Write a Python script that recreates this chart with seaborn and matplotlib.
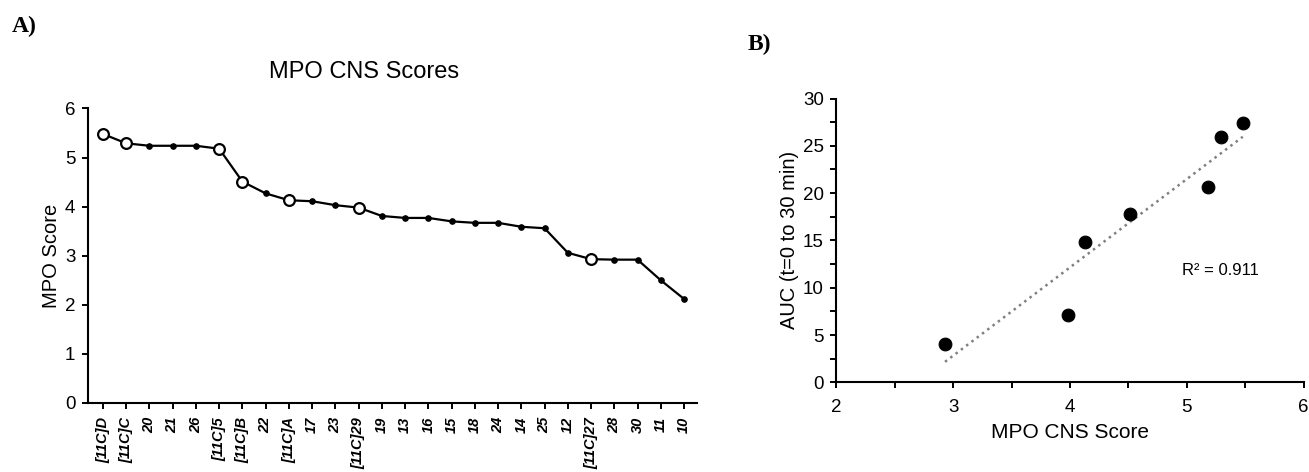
import numpy as np
import pandas as pd
import matplotlib
matplotlib.use("Agg")
import matplotlib.pyplot as plt
from matplotlib.ticker import MultipleLocator
import seaborn as sns

# panel A: compounds ranked by MPO CNS score
compounds = ["[11C]D", "[11C]C", "20", "21", "26", "[11C]5", "[11C]B", "22", "[11C]A",
             "17", "23", "[11C]29", "19", "13", "16", "15", "18", "24", "14", "25",
             "12", "[11C]27", "28", "30", "11", "10"]
mpo_scores = [5.48, 5.29, 5.24, 5.24, 5.24, 5.18, 4.51, 4.27, 4.13,
              4.11, 4.03, 3.98, 3.81, 3.77, 3.77, 3.70, 3.67, 3.67, 3.59, 3.56,
              3.06, 2.93, 2.92, 2.92, 2.50, 2.12]

# panel B: radiotracers, MPO score vs brain AUC
tracer_mpo = [2.93, 3.98, 4.13, 4.51, 5.18, 5.29, 5.48]
tracer_auc = [4.1, 7.1, 14.8, 17.8, 20.6, 25.9, 27.4]
r2_text = "R\u00b2 = 0.911"

sns.set_style("ticks")
plt.rcParams["font.family"] = ["Liberation Sans", "DejaVu Sans"]
plt.rcParams.update({
    "text.color": "black", "axes.labelcolor": "black", "axes.edgecolor": "black",
    "xtick.color": "black", "ytick.color": "black",
    "axes.linewidth": 1.5,
    "xtick.major.width": 1.4, "ytick.major.width": 1.4,
    "xtick.minor.width": 1.4, "ytick.minor.width": 1.4,
})

df_a = pd.DataFrame({"compound": compounds, "score": mpo_scores})
df_a["labelled"] = df_a["compound"].str.startswith("[11C]")

fig = plt.figure(figsize=(13.09, 4.72), dpi=100)
ax1 = fig.add_axes([0.0672, 0.1462, 0.4653, 0.6240])
ax2 = fig.add_axes([0.6390, 0.1900, 0.3568, 0.6013])

# --- panel A
sns.lineplot(data=df_a, x="compound", y="score", sort=False, color="black",
             linewidth=1.6, marker="o", markersize=4, markeredgecolor="black", ax=ax1)
sns.scatterplot(data=df_a[df_a["labelled"]], x="compound", y="score", s=60,
                facecolor="white", edgecolor="black", linewidth=1.6, zorder=5, ax=ax1)
ax1.set_ylim(0, 6)
ax1.set_xlim(-0.645, len(compounds) - 1 + 0.56)
ax1.yaxis.set_major_locator(MultipleLocator(1))
ax1.tick_params(axis="y", labelsize=13.5, length=4, direction="out", pad=5)
ax1.tick_params(axis="x", length=4, direction="out", pad=6)
ax1.set_xticks(range(len(compounds)))
ax1.set_xticklabels(compounds, rotation=90, fontsize=10.5, fontstyle="italic", fontweight="bold")
ax1.set_xlabel("")
ax1.set_ylabel("MPO Score", fontsize=14.5, labelpad=3)
fig.text(364 / 1309, 1 - 72.5 / 472, "MPO CNS Scores", ha="center", va="center", fontsize=17)
sns.despine(ax=ax1)

# --- panel B
sns.regplot(x=tracer_mpo, y=tracer_auc, ci=None, scatter=False, truncate=True,
            line_kws=dict(color="#808080", linestyle=":", linewidth=1.8), ax=ax2)
sns.scatterplot(x=tracer_mpo, y=tracer_auc, s=85, color="black", edgecolor="black", zorder=5, ax=ax2)
ax2.set_xlim(2, 6)
ax2.set_ylim(0, 30)
ax2.xaxis.set_major_locator(MultipleLocator(1))
ax2.xaxis.set_minor_locator(MultipleLocator(0.5))
ax2.yaxis.set_major_locator(MultipleLocator(5))
ax2.yaxis.set_minor_locator(MultipleLocator(2.5))
ax2.tick_params(which="both", length=4, direction="out", labelsize=13.5)
ax2.tick_params(axis="x", which="major", pad=8)
ax2.tick_params(axis="y", which="major", pad=5)
ax2.set_xlabel("MPO CNS Score", fontsize=15, labelpad=5)
ax2.set_ylabel("AUC (t=0 to 30 min)", fontsize=14.5, labelpad=3)
ax2.text(5.285, 11.8, r2_text, ha="center", va="center", fontsize=12)
sns.despine(ax=ax2)

fig.text(12 / 1309, 1 - 26 / 472, "A)", ha="left", va="center", fontsize=17,
         family="Liberation Serif", fontweight="bold")
fig.text(748 / 1309, 1 - 44.5 / 472, "B)", ha="left", va="center", fontsize=17,
         family="Liberation Serif", fontweight="bold")

fig.savefig("out.png", dpi=100)
